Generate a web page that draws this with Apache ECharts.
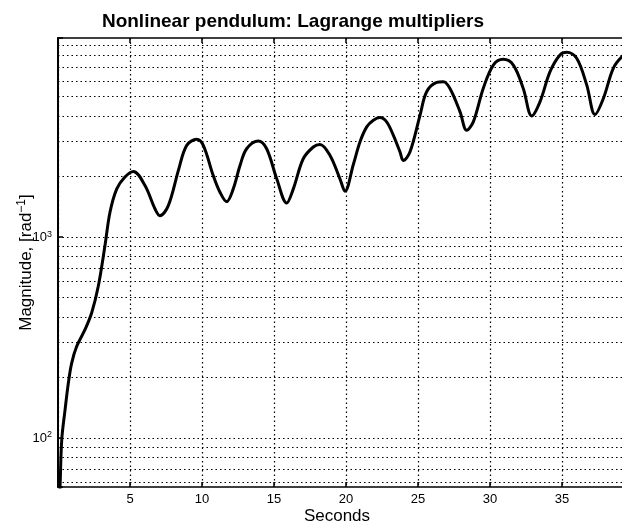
<!DOCTYPE html>
<html>
<head>
<meta charset="utf-8">
<script src="https://cdn.jsdelivr.net/npm/echarts@6/dist/echarts.min.js"></script>
<style>
html,body{margin:0;padding:0;background:#fff;}
#chart{width:622px;height:524px;}
</style>
</head>
<body>
<div id="chart"></div>
<script>
const seconds = [0.02,0.14,0.26,0.49,0.72,0.95,1.3,1.88,2.34,2.8,3.26,3.61,4.08,4.65,5.23,6.04,6.74,7.08,7.66,8.4,8.94,9.63,10.09,10.78,11.25,11.71,12.17,12.64,13.1,13.91,14.49,15.19,15.88,16.34,17.03,17.73,18.19,18.89,19.58,19.93,20.51,20.97,21.44,21.9,22.36,22.82,23.29,23.75,23.98,24.44,25.14,25.6,26.3,26.76,27.22,27.92,28.38,28.84,29.53,30.23,30.92,31.62,32.31,32.9,33.47,34.17,34.86,35.33,36.02,36.72,37.29,37.87,38.56,39.17,40];
const magnitude = [40,57,98,138,188,236,286,347,420,571,905,1329,1738,1990,2121,1806,1380,1278,1434,2200,2861,3066,2861,2025,1673,1502,1738,2273,2754,3010,2754,1950,1479,1738,2455,2809,2893,2550,1950,1692,2300,2976,3537,3815,3936,3746,3210,2652,2407,2652,4041,5292,5888,5936,5495,4203,3401,3746,5495,7186,7674,7186,5495,4013,4715,6662,8062,8318,7762,5708,4074,4898,6918,7913,8800];
const gridYValues = [60,70,80,90,100,200,300,400,500,600,700,800,900,1000,2000,3000,4000,5000,6000,7000,8000,9000];

const FONT = 'Liberation Sans';
const chart = echarts.init(document.getElementById('chart'), null, {renderer:'canvas'});
const dotted = {type:[1.5,3], color:'#000', width:1.2};
const option = {
  backgroundColor:'#fff',
  animation:false,
  title:{
    text:'Nonlinear pendulum: Lagrange multipliers',
    left:288, top:7, textAlign:'center',
    textStyle:{fontFamily:FONT, fontSize:19, fontWeight:'bold', color:'#000'}
  },
  grid:{left:58, top:38, bottom:37, right:-12, containLabel:false, outerBoundsMode:'none'},
  xAxis:[{
    type:'value', min:0, max:40, interval:5,
    name:'Seconds', nameLocation:'middle', nameGap:21, nameMoveOverlap:false,
    nameTextStyle:{fontFamily:FONT, fontSize:17, color:'#000', padding:[0,18,0,0]},
    axisLine:{show:true, lineStyle:{color:'#000', width:1.5}},
    axisTick:{show:true, inside:true, length:5, lineStyle:{color:'#000', width:1.5}},
    axisLabel:{fontFamily:FONT, fontSize:13, color:'#000', margin:6,
      formatter:v => (v === 0 ? '' : String(v))},
    splitLine:{show:true, lineStyle:dotted}
  },{
    type:'value', min:0, max:40, interval:5, position:'top',
    axisLine:{show:true, lineStyle:{color:'#000', width:1.5}},
    axisTick:{show:true, inside:true, length:5, lineStyle:{color:'#000', width:1.5}},
    axisLabel:{show:false}, splitLine:{show:false}
  }],
  yAxis:{
    type:'log', logBase:10, min:57, max:9800,
    name:'Magnitude, [rad{sup|\u22121}]', nameLocation:'middle', nameGap:21, nameRotate:90, nameMoveOverlap:false,
    nameTextStyle:{fontFamily:FONT, fontSize:17, color:'#000',
      rich:{sup:{fontFamily:FONT, fontSize:12, verticalAlign:'top', padding:[0,0,9,0], color:'#000'}}},
    axisLine:{show:true, lineStyle:{color:'#000', width:2}},
    axisTick:{show:true, inside:true, length:5, lineStyle:{color:'#000', width:1.5}},
    axisLabel:{fontFamily:FONT, fontSize:13, color:'#000', margin:6,
      formatter:v => {
        const e = Math.round(Math.log10(v));
        if (Math.abs(v - Math.pow(10, e)) < 1e-6 * v) return '10{sup|' + e + '}';
        return '';
      },
      rich:{sup:{fontFamily:FONT, fontSize:9, verticalAlign:'top', padding:[0,0,6,0], color:'#000'}}
    },
    splitLine:{show:false}
  },
  series:[{
    type:'line', data:[], z:1, silent:true,
    markLine:{
      silent:true, symbol:'none', z:1, animation:false,
      label:{show:false},
      lineStyle:dotted,
      data:gridYValues.map(v => ({yAxis:v}))
    }
  },{
    type:'line', z:5,
    data:seconds.map((t,i) => [t, magnitude[i]]),
    smooth:0.35, showSymbol:false, clip:true,
    lineStyle:{color:'#000', width:3}
  }]
};
chart.setOption(option);
</script>
</body>
</html>
